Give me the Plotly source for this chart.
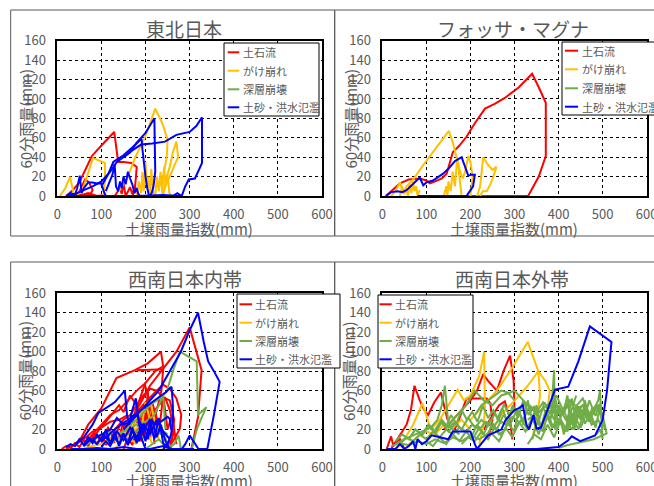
import plotly.graph_objects as go

# ---------------- data ----------------
CATEGORIES = ["土石流", "がけ崩れ", "深層崩壊", "土砂・洪水氾濫"]
PANEL_TITLES = ["東北日本", "フォッサ・マグナ", "西南日本内帯", "西南日本外帯"]
X_TICKS = [0, 100, 200, 300, 400, 500, 600]
Y_TICKS = [0, 20, 40, 60, 80, 100, 120, 140, 160]
X_TITLE = "土壌雨量指数(mm)"
Y_TITLE = "60分雨量(mm)"

# --- 東北日本 ---
tohoku_debris_x = [[20, 35, 50, 65, 78, 100, 129, 138, 150, 168, 180, 178, 175, 170],
                   [45, 55, 63, 72, 80, 75, 60],
                   [130, 138, 142, 146, 150, 155, 160, 165, 170, 176, 182, 188],
                   [25, 40, 55, 70, 90, 110]]
tohoku_debris_y = [[0, 6, 14, 28, 41, 52, 66, 35, 35, 34, 30, 18, 5, 0],
                   [0, 10, 17, 14, 6, 2, 0],
                   [0, 6, 8, 2, 13, 0, 4, 9, 2, 10, 3, 0],
                   [0, 2, 1, 3, 0, 1]]
tohoku_slope_x = [[6, 18, 29, 34, 38],
                  [45, 60, 81, 95, 108, 108, 105],
                  [140, 160, 176, 200, 222, 238, 250, 248, 242, 235],
                  [240, 248, 255, 266, 274, 270, 262, 255, 248, 240],
                  [180, 185, 190, 193, 196, 200, 203, 206, 210, 213, 216, 220],
                  [222, 226, 230, 234, 238, 242, 246, 250, 254, 258]]
tohoku_slope_y = [[0, 8, 20, 8, 0],
                  [0, 10, 39, 36, 34, 18, 0],
                  [5, 20, 39, 62, 90, 75, 58, 40, 25, 10],
                  [4, 13, 21, 32, 40, 56, 45, 30, 20, 0],
                  [0, 15, 3, 25, 5, 35, 8, 20, 0, 28, 10, 0],
                  [0, 20, 5, 25, 2, 30, 10, 22, 3, 0]]
tohoku_flood_x = [[150, 170, 190, 215, 244, 270, 300, 315, 328, 328, 322, 312, 298, 290, 282, 272, 262],
                  [20, 40, 60, 80, 100, 120, 135, 150, 165, 180, 200, 220, 221, 222, 218, 214, 210],
                  [100, 115, 127, 150, 170, 191, 193, 196, 200, 204, 208],
                  [110, 118, 125, 130, 133, 138, 142, 146, 150, 155, 160, 165, 170, 175, 180, 185],
                  [20, 30, 40, 45, 51, 55, 60, 70, 80, 90, 100, 105, 110],
                  [20, 60, 120, 180, 240, 270, 280]]
tohoku_flood_y = [[40, 47, 53, 54, 56, 63, 66, 72, 81, 34, 28, 18, 17, 10, 0, 3, 0],
                  [0, 2, 6, 10, 15, 25, 35, 40, 45, 55, 65, 80, 50, 25, 10, 3, 0],
                  [10, 22, 35, 42, 50, 59, 48, 35, 20, 8, 0],
                  [5, 15, 22, 33, 10, 5, 15, 8, 20, 12, 25, 18, 12, 3, 8, 0],
                  [0, 3, 1, 8, 21, 3, 8, 14, 14, 13, 13, 5, 0],
                  [0, 0, 0, 0, 1, 0, 0]]

# --- フォッサ・マグナ ---
fossa_debris_x = [[8, 20, 40, 60, 85, 100, 108, 120, 135, 146, 153, 160, 175, 191, 210, 233, 255,
                   278, 310, 340, 355, 371, 371, 355, 331, 300, 250, 200, 180]]
fossa_debris_y = [[0, 5, 13, 17, 18, 16, 13, 15, 18, 23, 33, 45, 52, 61, 75, 90, 95,
                   101, 112, 126, 112, 96, 41, 20, 0, 0, 0, 0, 0]]
fossa_slope_x = [[20, 30, 40, 48, 55, 70, 90, 110, 130, 151, 160, 168, 175, 182, 188, 195, 200, 205, 200],
                 [215, 222, 229, 240, 250, 259, 252, 245, 237, 228, 222],
                 [40, 45, 50, 55, 58, 62, 66, 70, 73, 77, 80, 85],
                 [140, 145, 148, 150, 155, 160, 165, 170, 175, 180]]
fossa_slope_y = [[0, 5, 14, 3, 10, 17, 30, 42, 55, 67, 55, 40, 28, 18, 25, 41, 35, 20, 0],
                 [0, 10, 40, 32, 27, 30, 20, 12, 5, 5, 0],
                 [0, 10, 2, 8, 0, 12, 3, 15, 5, 10, 0, 6],
                 [0, 10, 0, 15, 5, 25, 10, 40, 20, 0]]
fossa_flood_x = [[8, 20, 35, 45, 55, 65, 75, 85, 93, 100, 115, 138, 150, 165, 180, 188, 195, 203,
                  210, 206, 198, 191, 150, 100, 80]]
fossa_flood_y = [[0, 4, 5, 4, 6, 10, 14, 19, 11, 14, 16, 23, 28, 36, 40, 29, 21, 22,
                  22, 10, 4, 0, 0, 0, 0]]

# --- 西南日本内帯 ---
inner_debris_x = [[30, 50, 70, 100, 134, 176, 205, 235, 240, 222, 200, 185, 170],
                  [180, 210, 244, 270, 300, 327, 319, 310, 304, 295],
                  [60, 80, 100, 120, 140, 160, 180, 198, 205, 210, 200, 190],
                  [150, 175, 200, 225, 240, 255, 270, 281, 278, 265, 250],
                  [80, 95, 110, 125, 140, 150, 165, 180, 190, 200],
                  [120, 135, 150, 165, 180, 195, 210, 225, 240, 255, 265, 260, 250],
                  [160, 170, 180, 185, 190, 195, 200, 205, 210, 215, 220],
                  [20, 40, 60, 80, 100, 120, 140, 160],
                  [10, 20, 30, 40, 50, 60, 70, 80, 90, 100, 110, 120, 130],
                  [200, 215, 230, 245, 255, 265, 260, 250, 240],
                  [100, 110, 120, 130, 140, 150, 160, 170],
                  [140, 155, 170, 185, 200, 215, 230],
                  [180, 240, 236, 225, 215],
                  [40, 55, 70, 85, 100, 115, 130, 145, 160, 175, 190],
                  [150, 160, 170, 180, 190, 200, 210, 220, 230, 240, 250, 260, 270]]
inner_debris_y = [[2, 8, 25, 42, 73, 81, 88, 100, 85, 80, 68, 50, 30],
                  [40, 65, 85, 100, 125, 81, 33, 15, 0, 0],
                  [5, 15, 25, 35, 40, 50, 60, 67, 55, 40, 25, 10],
                  [20, 35, 48, 60, 66, 62, 52, 35, 21, 10, 0],
                  [10, 20, 28, 36, 45, 38, 55, 45, 30, 10],
                  [15, 22, 30, 35, 45, 55, 62, 60, 53, 50, 30, 10, 0],
                  [5, 20, 10, 35, 15, 45, 20, 60, 25, 40, 5],
                  [0, 5, 10, 18, 22, 28, 30, 35],
                  [0, 3, 1, 6, 2, 9, 3, 12, 5, 15, 4, 18, 6],
                  [20, 35, 45, 52, 40, 20, 10, 5, 0],
                  [5, 15, 8, 20, 12, 28, 15, 35],
                  [10, 25, 20, 38, 30, 48, 25],
                  [81, 82, 60, 40, 20],
                  [3, 10, 6, 16, 9, 22, 12, 28, 16, 34, 18],
                  [0, 12, 4, 20, 8, 30, 10, 42, 15, 55, 20, 35, 5]]
inner_slope_x = [[100, 120, 140, 160, 180, 200, 210, 220, 230],
                 [130, 145, 160, 175, 190, 205, 215],
                 [60, 80, 100, 120, 140, 160, 180],
                 [150, 160, 170, 180, 190, 200, 210]]
inner_slope_y = [[5, 10, 15, 22, 30, 45, 50, 30, 10],
                 [0, 8, 14, 20, 25, 18, 5],
                 [0, 3, 5, 8, 10, 12, 5],
                 [10, 25, 15, 35, 20, 48, 30]]
inner_deep_x = [[150, 180, 210, 232, 248, 262, 278, 297, 316, 319, 338, 325, 316, 305],
                [60, 80, 100, 120, 140, 160, 180, 200, 220, 235, 240, 245],
                [200, 215, 230, 250, 265, 275, 280, 290],
                [100, 130, 160, 190, 220, 250],
                [120, 140, 160, 180, 200, 220, 240, 260]]
inner_deep_y = [[20, 30, 45, 52, 59, 80, 100, 95, 90, 35, 43, 30, 20, 0],
                [3, 8, 15, 18, 16, 20, 25, 28, 35, 50, 55, 20],
                [0, 5, 10, 0, 5, 14, 0, 0],
                [10, 18, 15, 20, 25, 15],
                [5, 12, 8, 16, 10, 20, 14, 0]]
inner_flood_x = [[150, 200, 230, 255, 280, 300, 319, 332, 342, 355, 368, 355, 340, 320, 300, 290, 282],
                 [100, 130, 160, 190, 220, 245, 259, 262, 262, 258, 250, 240],
                 [40, 60, 80, 93, 110, 130, 153, 158, 163, 170, 178, 185, 190],
                 [80, 100, 120, 135, 150, 165, 180, 195, 210, 225, 240, 250, 255, 258],
                 [20, 30, 40, 50, 60, 70, 80, 90, 100, 110, 120, 130, 140, 150, 160, 170, 180, 190, 200],
                 [30, 60, 90, 120, 150, 180, 210, 240, 260, 280, 310],
                 [160, 175, 185, 195, 205, 215, 225, 235, 245, 255],
                 [60, 75, 90, 105, 120, 135, 150, 165, 180, 195, 210, 225, 240, 255],
                 [100, 110, 120, 130, 140, 150, 160, 170, 180, 190, 200, 210, 220, 230, 240, 250]]
inner_flood_y = [[20, 45, 60, 80, 100, 122, 140, 110, 90, 80, 69, 35, 0, 0, 14, 5, 0],
                 [8, 20, 30, 40, 50, 58, 64, 45, 30, 15, 5, 0],
                 [5, 12, 25, 37, 42, 48, 60, 35, 25, 40, 52, 30, 10],
                 [10, 15, 20, 32, 25, 28, 35, 20, 30, 25, 30, 33, 31, 20],
                 [2, 5, 3, 10, 4, 12, 6, 15, 8, 20, 5, 18, 3, 15, 5, 22, 8, 12, 0],
                 [0, 0, 1, 0, 2, 0, 0, 3, 0, 0, 0],
                 [5, 15, 8, 25, 10, 30, 12, 25, 8, 0],
                 [3, 10, 5, 14, 7, 18, 9, 22, 12, 26, 15, 30, 18, 10],
                 [2, 8, 3, 12, 5, 16, 4, 20, 6, 24, 8, 28, 10, 32, 6, 2]]

# --- 西南日本外帯 ---
outer_debris_x = [[20, 40, 55, 65, 73, 85, 95, 104, 118, 133, 140, 148],
                  [140, 160, 180, 200, 215, 229, 240, 260, 275, 290, 298, 300],
                  [150, 170, 191, 210, 237, 245, 250, 240],
                  [230, 250, 265, 278, 290, 295],
                  [10, 20, 25, 30, 40, 50]]
outer_debris_y = [[0, 15, 25, 40, 65, 50, 40, 35, 48, 58, 45, 30],
                  [20, 30, 40, 50, 60, 77, 70, 60, 80, 96, 70, 40],
                  [10, 25, 52, 52, 52, 47, 30, 10],
                  [20, 35, 45, 49, 30, 10],
                  [0, 13, 3, 6, 10, 0]]
outer_slope_x = [[30, 50, 70, 91, 110, 130, 150, 171, 185, 200, 220, 231, 233, 228, 220],
                 [200, 230, 260, 290, 310, 330, 342, 354, 358, 350, 340],
                 [250, 270, 290, 305, 330, 354, 370, 380, 375, 365],
                 [60, 80, 100, 120, 140, 160, 180, 200]]
outer_slope_y = [[0, 10, 25, 47, 20, 30, 45, 61, 50, 55, 75, 100, 40, 20, 5],
                 [30, 45, 60, 80, 95, 110, 95, 80, 55, 30, 10],
                 [20, 35, 45, 52, 65, 80, 70, 60, 40, 20],
                 [5, 12, 18, 15, 25, 22, 30, 20]]
outer_deep_x = [[30, 50, 70, 90, 110, 125, 135, 142, 146, 150, 160, 175],
                [330, 345, 360, 375, 385, 390, 391, 392, 400, 410],
                [420, 440, 455, 470, 480, 490, 494, 497, 500, 495, 485],
                [150, 170, 190, 210, 230, 250, 270, 290, 300, 320, 340],
                [400, 420, 440, 460, 480, 500, 509, 500, 490, 470, 450, 430, 410],
                [40, 55, 70, 85, 100, 115, 130, 145, 160, 175, 190, 205, 220, 235, 250, 265, 280, 295, 310],
                [200, 215, 230, 245, 260, 275, 290, 305, 320, 335, 350, 365, 380, 395, 410, 425, 440, 455, 470],
                [300, 310, 320, 330, 340, 350, 360, 370, 380, 390, 400, 410, 420, 430, 440, 450, 460, 470, 480],
                [250, 265, 280, 295, 310, 325, 340, 355, 370, 385, 400, 415, 430, 445, 460, 475, 490, 500],
                [100, 115, 130, 145, 160, 175, 190, 205, 220, 235, 250, 265, 280],
                [330, 345, 360, 375, 390, 405, 420, 435, 450, 465, 480],
                [380, 390, 400, 410, 420, 430, 440, 450, 460],
                [210, 225, 240, 255, 270, 285, 300],
                [60, 75, 90, 105, 120, 135, 150, 165, 180],
                [20, 40, 60, 80, 100, 120, 140, 160, 180, 200, 220, 240],
                [30, 45, 60, 75, 90, 105, 120, 135, 150, 165, 180, 195, 210, 225, 240, 255, 270],
                [260, 272, 284, 296, 308, 320, 332, 344, 356, 368, 380, 392, 404, 416, 428, 440],
                [340, 352, 364, 376, 388, 400, 412, 424, 436, 448, 460, 472, 484, 496],
                [120, 132, 144, 156, 168, 180, 192, 204, 216, 228, 240, 252, 264, 276, 288, 300],
                [420, 428, 436, 444, 452, 460, 468, 476, 484, 492, 500],
                [180, 195, 210, 225, 240, 255, 270, 285, 300, 315, 330, 345, 360],
                [350, 365, 380, 395, 410, 425, 440, 455, 470, 485, 500, 505]]
outer_deep_y = [[5, 10, 14, 18, 22, 30, 45, 65, 40, 25, 20, 15],
                [30, 35, 40, 45, 50, 81, 40, 20, 30, 25],
                [30, 40, 45, 35, 40, 50, 60, 30, 10, 20, 15],
                [25, 35, 45, 60, 50, 45, 55, 58, 60, 50, 40],
                [1, 4, 6, 8, 10, 14, 16, 35, 45, 30, 40, 20, 35],
                [5, 12, 8, 15, 10, 18, 12, 20, 15, 22, 18, 25, 20, 28, 22, 30, 25, 33, 28],
                [10, 25, 15, 30, 20, 35, 25, 40, 30, 45, 35, 42, 30, 45, 35, 50, 38, 45, 30],
                [20, 40, 25, 50, 30, 45, 20, 38, 28, 48, 25, 42, 30, 52, 28, 40, 35, 50, 38],
                [15, 8, 22, 12, 28, 18, 32, 15, 38, 22, 30, 18, 35, 20, 40, 25, 30, 20],
                [8, 3, 12, 5, 15, 8, 18, 10, 22, 12, 25, 15, 20],
                [5, 15, 10, 25, 12, 30, 18, 35, 22, 38, 25],
                [40, 30, 45, 35, 55, 25, 45, 30, 40],
                [35, 45, 50, 55, 60, 58, 50],
                [10, 20, 15, 25, 18, 30, 22, 28, 20],
                [3, 6, 4, 8, 5, 10, 6, 12, 8, 14, 10, 16],
                [8, 15, 10, 20, 14, 24, 16, 28, 18, 26, 20, 32, 22, 30, 24, 36, 26],
                [30, 42, 28, 45, 32, 50, 35, 44, 30, 48, 36, 52, 33, 46, 38, 55],
                [10, 28, 18, 36, 22, 40, 15, 34, 20, 44, 26, 38, 22, 48],
                [20, 28, 22, 35, 26, 40, 30, 38, 28, 44, 32, 40, 30, 46, 35, 42],
                [20, 38, 25, 44, 30, 50, 28, 42, 34, 46, 25],
                [5, 12, 8, 18, 10, 22, 14, 26, 18, 30, 20, 34, 24],
                [38, 48, 42, 55, 40, 50, 44, 52, 36, 45, 30, 20]]
outer_flood_x = [[10, 30, 40, 50, 60, 70, 75, 80, 90, 100, 112, 130, 150, 160, 180, 200, 210, 215,
                  240, 260, 270, 280, 290, 300, 310, 319, 327, 333, 343, 350, 360, 375, 392, 422,
                  445, 471, 520, 510, 500, 483, 470, 449, 430, 422, 400, 350, 300, 200, 130]]
outer_flood_y = [[0, 0, 5, 0, 3, 8, 0, 10, 5, 8, 14, 12, 10, 18, 18, 18, 5, 0,
                  14, 18, 20, 30, 35, 40, 42, 45, 25, 20, 35, 21, 22, 40, 61, 64,
                  90, 126, 110, 60, 30, 14, 12, 8, 13, 9, 2, 0, 0, 0, 0]]

# ---------------- layout helpers ----------------
W, H = 654, 486
COLORS = ["#FF0000", "#FFC000", "#70AD47", "#0000FF"]
GRAY = "#595959"
FONT = "Noto Sans CJK JP"


def fx(p):
    return p / W


def fy(p):
    return 1 - p / H


def join(lines):
    out = []
    for i, seg in enumerate(lines):
        if i:
            out.append(None)
        out.extend(seg)
    return out


panels = [
    dict(data=[(tohoku_debris_x, tohoku_debris_y), (tohoku_slope_x, tohoku_slope_y), None,
               (tohoku_flood_x, tohoku_flood_y)],
         plot=(57.3, 322, 40.7, 196), box=(10.7, 334.7, 10, 236),
         title=(184.5, 28.5), xt=(189, 228), yt=(25, 118.5),
         legend=dict(box=(224, 319, 43, 116), ys=[52.3, 70.7, 89.3, 107.3], sx=(227.7, 239.3), tx=240.5)),
    dict(data=[(fossa_debris_x, fossa_debris_y), (fossa_slope_x, fossa_slope_y), None,
               (fossa_flood_x, fossa_flood_y)],
         plot=(382.3, 646.7, 40.7, 196), box=(334.7, 670, 10, 236),
         title=(513, 28.5), xt=(514, 228), yt=(350, 118.5),
         legend=dict(box=(562, 670, 42, 115), ys=[50.7, 69.3, 88.3, 106.7], sx=(565, 578), tx=579.5)),
    dict(data=[(inner_debris_x, inner_debris_y), (inner_slope_x, inner_slope_y),
               (inner_deep_x, inner_deep_y), (inner_flood_x, inner_flood_y)],
         plot=(57.3, 322, 293.3, 449), box=(10.7, 334.7, 262, 500),
         title=(185, 278.5), xt=(189, 480), yt=(23.5, 371),
         legend=dict(box=(237, 340, 294, 368), ys=[304.3, 322.7, 341, 359.3], sx=(239.5, 252), tx=252.5)),
    dict(data=[(outer_debris_x, outer_debris_y), (outer_slope_x, outer_slope_y),
               (outer_deep_x, outer_deep_y), (outer_flood_x, outer_flood_y)],
         plot=(382.3, 646.7, 293.3, 449), box=(334.7, 670, 262, 500),
         title=(512, 278.5), xt=(514, 480), yt=(348, 371),
         legend=dict(box=(378, 473, 295, 368), ys=[304.3, 322.7, 341, 359.3], sx=(379.5, 391.7), tx=393)),
]

fig = go.Figure()
shapes = []
annotations = []
layout_axes = {}

for i, p in enumerate(panels):
    n = "" if i == 0 else str(i + 1)
    # panel frame
    b = p["box"]
    shapes.append(dict(type="rect", xref="paper", yref="paper", x0=fx(b[0]), x1=fx(b[1]),
                       y0=fy(b[3]), y1=fy(b[2]), line=dict(color="#595959", width=1),
                       fillcolor="rgba(0,0,0,0)", layer="below"))
    # traces
    for c, d in enumerate(p["data"]):
        if d is None:
            continue
        fig.add_trace(go.Scatter(x=join(d[0]), y=join(d[1]), mode="lines", name=CATEGORIES[c],
                                 line=dict(color=COLORS[c], width=2), showlegend=False,
                                 xaxis="x" + n, yaxis="y" + n, hoverinfo="skip"))
    x0, x1, y0, y1 = p["plot"]
    common = dict(showgrid=True, gridcolor="#000000", griddash="dot", gridwidth=1,
                  showline=True, mirror=True, linecolor="#000000", linewidth=1.5,
                  zeroline=False, ticks="", tickfont=dict(size=13, color=GRAY, family=FONT),
                  fixedrange=True, automargin=False, ticklabeloverflow="allow")
    layout_axes["xaxis" + n] = dict(common, domain=[fx(x0), fx(x1)], range=[0, 600],
                                    tickvals=X_TICKS, anchor="y" + n, ticklabelstandoff=6)
    layout_axes["yaxis" + n] = dict(common, domain=[fy(y1), fy(y0)], range=[0, 160],
                                    tickvals=Y_TICKS, anchor="x" + n, ticklabelstandoff=7)
    # titles
    annotations.append(dict(text=PANEL_TITLES[i], x=fx(p["title"][0]), y=fy(p["title"][1]),
                            xref="paper", yref="paper", showarrow=False, xanchor="center",
                            yanchor="middle", font=dict(size=19, color=GRAY, family=FONT)))
    annotations.append(dict(text=X_TITLE, x=fx(p["xt"][0]), y=fy(p["xt"][1]),
                            xref="paper", yref="paper", showarrow=False, xanchor="center",
                            yanchor="middle", font=dict(size=15, color=GRAY, family=FONT)))
    annotations.append(dict(text=Y_TITLE, x=fx(p["yt"][0]), y=fy(p["yt"][1]), textangle=-90,
                            xref="paper", yref="paper", showarrow=False, xanchor="center",
                            yanchor="middle", font=dict(size=15, color=GRAY, family=FONT)))
    # legend box
    lg = p["legend"]
    lb = lg["box"]
    shapes.append(dict(type="rect", xref="paper", yref="paper", x0=fx(lb[0]), x1=fx(lb[1]),
                       y0=fy(lb[3]), y1=fy(lb[2]), line=dict(color="#000000", width=1),
                       fillcolor="#FFFFFF", layer="above"))
    for c in range(4):
        yy = lg["ys"][c]
        shapes.append(dict(type="line", xref="paper", yref="paper", x0=fx(lg["sx"][0]),
                           x1=fx(lg["sx"][1]), y0=fy(yy), y1=fy(yy),
                           line=dict(color=COLORS[c], width=2), layer="above"))
        annotations.append(dict(text=CATEGORIES[c], x=fx(lg["tx"]), y=fy(yy), xref="paper",
                                yref="paper", showarrow=False, xanchor="left", yanchor="middle",
                                font=dict(size=11, color=GRAY, family=FONT)))

fig.update_layout(width=W, height=H, margin=dict(l=0, r=0, t=0, b=0, autoexpand=False),
                  paper_bgcolor="#FFFFFF", plot_bgcolor="#FFFFFF", showlegend=False,
                  shapes=shapes, annotations=annotations, font=dict(family=FONT),
                  **layout_axes)

fig.write_html("out.html", config={"displayModeBar": False},
               post_script="document.body.style.margin='0';document.body.style.overflow='hidden';")
